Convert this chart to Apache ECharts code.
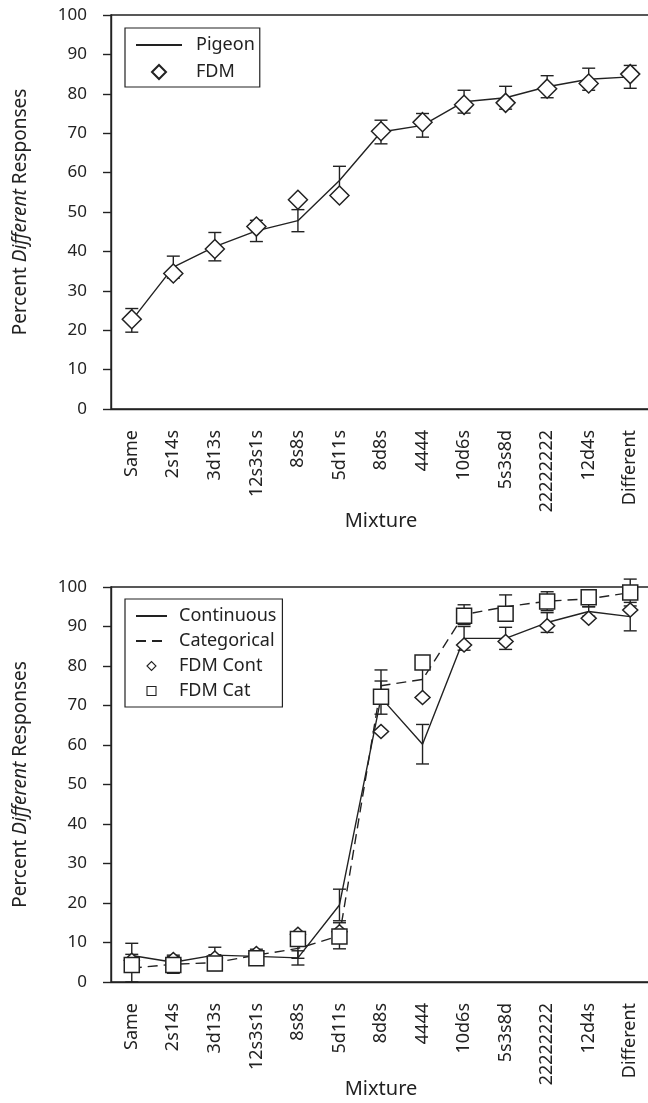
<!DOCTYPE html>
<html>
<head>
<meta charset="utf-8">
<script src="https://cdn.jsdelivr.net/npm/echarts@6/dist/echarts.min.js"></script>
<style>
  html, body { margin: 0; padding: 0; background: #fff; }
  #chart { width: 648px; height: 1103px; }
</style>
</head>
<body>
<div id="chart"></div>
<script>
// mixture conditions (x axis, shared by both panels)
const mixtures = ['Same', '2s14s', '3d13s', '12s3s1s', '8s8s', '5d11s', '8d8s', '4444', '10d6s', '5s3s8d', '22222222', '12d4s', 'Different'];
const yTicks = [0, 100, 10]; // min, max, step

// top panel
const pigeon = [22.5, 36.0, 41.2, 45.2, 47.8, 58.0, 70.3, 72.0, 78.0, 79.0, 81.8, 83.7, 84.3];
const pigeonErr = [3.0, 2.8, 3.6, 2.7, 2.8, 3.6, 3.0, 3.0, 2.9, 2.9, 2.8, 2.8, 2.9];
const fdm = [22.8, 34.4, 40.6, 46.3, 53.1, 54.2, 70.5, 72.8, 77.2, 77.7, 81.3, 82.6, 85.0];

// bottom panel
const continuous = [6.7, 5.0, 6.8, 6.5, 6.1, 19.5, 72.0, 60.2, 87.0, 87.0, 91.0, 93.8, 92.5];
const continuousErr = [3.1, 1.5, 2.0, 1.0, 1.8, 4.0, 4.2, 5.0, 3.0, 2.8, 2.5, 1.2, 3.6];
const categorical = [3.5, 4.5, 4.9, 6.8, 8.5, 11.7, 75.0, 76.6, 93.0, 95.0, 96.4, 97.0, 98.6];
const categoricalErr = [3.5, 2.3, 2.0, 1.5, 2.5, 3.3, 4.0, 4.5, 2.5, 3.0, 2.4, 2.0, 3.4];
const fdmCont = [5.5, 5.7, 6.1, 7.2, 12.1, 12.7, 63.4, 72.0, 85.3, 86.2, 90.2, 92.1, 94.2];
const fdmCat = [4.3, 4.3, 4.7, 6.0, 10.9, 11.5, 72.2, 80.9, 92.7, 93.2, 96.3, 97.4, 98.6];

const ink = '#222';
const font = 'Noto Sans';
const diamondIcon = 'path://M0,5 L5,0 L10,5 L5,10 Z';
const squareIcon = 'path://M0,0 L10,0 L10,10 L0,10 Z';

const chart = echarts.init(document.getElementById('chart'), null, { renderer: 'canvas' });

// mean +/- err as a vertical bar with caps
function errorBar(params, api) {
  const i = api.value(0), m = api.value(1), e = api.value(2);
  const hi = api.coord([i, m + e]);
  const lo = api.coord([i, m - e]);
  const w = 6.5;
  const style = { stroke: ink, lineWidth: 1.4 };
  return {
    type: 'group',
    children: [
      { type: 'line', shape: { x1: hi[0], y1: hi[1], x2: lo[0], y2: lo[1] }, style },
      { type: 'line', shape: { x1: hi[0] - w, y1: hi[1], x2: hi[0] + w, y2: hi[1] }, style },
      { type: 'line', shape: { x1: lo[0] - w, y1: lo[1], x2: lo[0] + w, y2: lo[1] }, style }
    ]
  };
}

function errData(means, errs) {
  return means.map((m, i) => [i, m, errs[i]]);
}

function xAxisFor(gridIndex, nameGap) {
  return {
    type: 'category',
    gridIndex,
    data: mixtures,
    boundaryGap: true,
    name: 'Mixture',
    nameLocation: 'middle',
    nameGap,
    nameMoveOverlap: false,
    nameTextStyle: { fontFamily: font, fontSize: 20, color: ink },
    axisLine: { lineStyle: { color: ink, width: 1.4 } },
    axisTick: { alignWithLabel: true, length: 8, lineStyle: { color: ink, width: 1.4 } },
    axisLabel: { rotate: 90, margin: 21, fontFamily: font, fontSize: 18, color: ink, interval: 0 },
    splitLine: { show: false }
  };
}

function yAxisFor(gridIndex) {
  return {
    type: 'value',
    gridIndex,
    min: yTicks[0],
    max: yTicks[1],
    interval: yTicks[2],
    name: '{n|Percent }{i|Different}{n| Responses}',
    nameLocation: 'middle',
    nameGap: 81,
    nameMoveOverlap: false,
    nameTextStyle: {
      rich: {
        n: { fontFamily: font, fontSize: 19, color: ink },
        i: { fontFamily: font, fontSize: 19, color: ink, fontStyle: 'italic' }
      }
    },
    axisLine: { show: true, lineStyle: { color: ink, width: 1.4 } },
    axisTick: { show: true, length: 8, lineStyle: { color: ink, width: 1.4 } },
    axisLabel: { margin: 24, fontFamily: font, fontSize: 17, color: ink },
    splitLine: { show: false }
  };
}

const markerStyle = { color: '#fff', borderColor: ink, borderWidth: 1.5, opacity: 1 };
const lineOnly = { color: 'rgba(0,0,0,0)', borderWidth: 0, opacity: 0 };

chart.setOption({
  backgroundColor: '#fff',
  animation: false,
  grid: [
    { left: 111, top: 15, width: 540, height: 394, outerBoundsMode: 'none', containLabel: false, show: true, borderColor: ink, borderWidth: 1.4, backgroundColor: 'transparent' },
    { left: 111, top: 587, width: 540, height: 395, outerBoundsMode: 'none', containLabel: false, show: true, borderColor: ink, borderWidth: 1.4, backgroundColor: 'transparent' }
  ],
  legend: [
    {
      data: [
        { name: 'Pigeon', itemStyle: lineOnly },
        { name: 'FDM', icon: diamondIcon }
      ],
      orient: 'vertical',
      left: 125,
      top: 28,
      itemWidth: 46,
      itemHeight: 14,
      itemGap: 9,
      symbolKeepAspect: true,
      padding: [8, 5, 6, 10],
      borderColor: ink,
      borderWidth: 1.2,
      textStyle: { fontFamily: font, fontSize: 18, color: ink, padding: [0, 0, 0, 9] }
    },
    {
      data: [
        { name: 'Continuous', itemStyle: lineOnly },
        { name: 'Categorical', itemStyle: lineOnly },
        { name: 'FDM Cont', icon: diamondIcon, itemStyle: { borderWidth: 1.1 } },
        { name: 'FDM Cat', icon: squareIcon, itemStyle: { borderWidth: 1.1 } }
      ],
      orient: 'vertical',
      left: 125,
      top: 599,
      itemWidth: 31,
      itemHeight: 9,
      itemGap: 7,
      symbolKeepAspect: true,
      padding: [8, 6, 7, 10],
      borderColor: ink,
      borderWidth: 1.2,
      textStyle: { fontFamily: font, fontSize: 18, color: ink, padding: [0, 0, 0, 7] }
    }
  ],
  xAxis: [xAxisFor(0, 102), xAxisFor(1, 97)],
  yAxis: [yAxisFor(0), yAxisFor(1)],
  series: [
    {
      name: 'Pigeon', type: 'line', xAxisIndex: 0, yAxisIndex: 0, z: 2,
      data: pigeon, symbol: 'none',
      lineStyle: { color: ink, width: 1.4, type: 'solid' }, itemStyle: { color: ink }
    },
    {
      name: 'pigeonErr', type: 'custom', xAxisIndex: 0, yAxisIndex: 0, z: 3,
      data: errData(pigeon, pigeonErr), renderItem: errorBar
    },
    {
      name: 'FDM', type: 'scatter', xAxisIndex: 0, yAxisIndex: 0, z: 4,
      data: fdm, symbol: 'diamond', symbolSize: 19, itemStyle: markerStyle
    },
    {
      name: 'Continuous', type: 'line', xAxisIndex: 1, yAxisIndex: 1, z: 2,
      data: continuous, symbol: 'none',
      lineStyle: { color: ink, width: 1.4, type: 'solid' }, itemStyle: { color: ink }
    },
    {
      name: 'Categorical', type: 'line', xAxisIndex: 1, yAxisIndex: 1, z: 2,
      data: categorical, symbol: 'none',
      lineStyle: { color: ink, width: 1.4, type: [10, 6] }, itemStyle: { color: ink }
    },
    {
      name: 'continuousErr', type: 'custom', xAxisIndex: 1, yAxisIndex: 1, z: 3,
      data: errData(continuous, continuousErr), renderItem: errorBar
    },
    {
      name: 'categoricalErr', type: 'custom', xAxisIndex: 1, yAxisIndex: 1, z: 3,
      data: errData(categorical, categoricalErr), renderItem: errorBar
    },
    {
      name: 'FDM Cont', type: 'scatter', xAxisIndex: 1, yAxisIndex: 1, z: 4,
      data: fdmCont, symbol: 'diamond', symbolSize: [15, 14], itemStyle: markerStyle
    },
    {
      name: 'FDM Cat', type: 'scatter', xAxisIndex: 1, yAxisIndex: 1, z: 5,
      data: fdmCat, symbol: 'rect', symbolSize: 15, itemStyle: markerStyle
    }
  ]
});
</script>
</body>
</html>
